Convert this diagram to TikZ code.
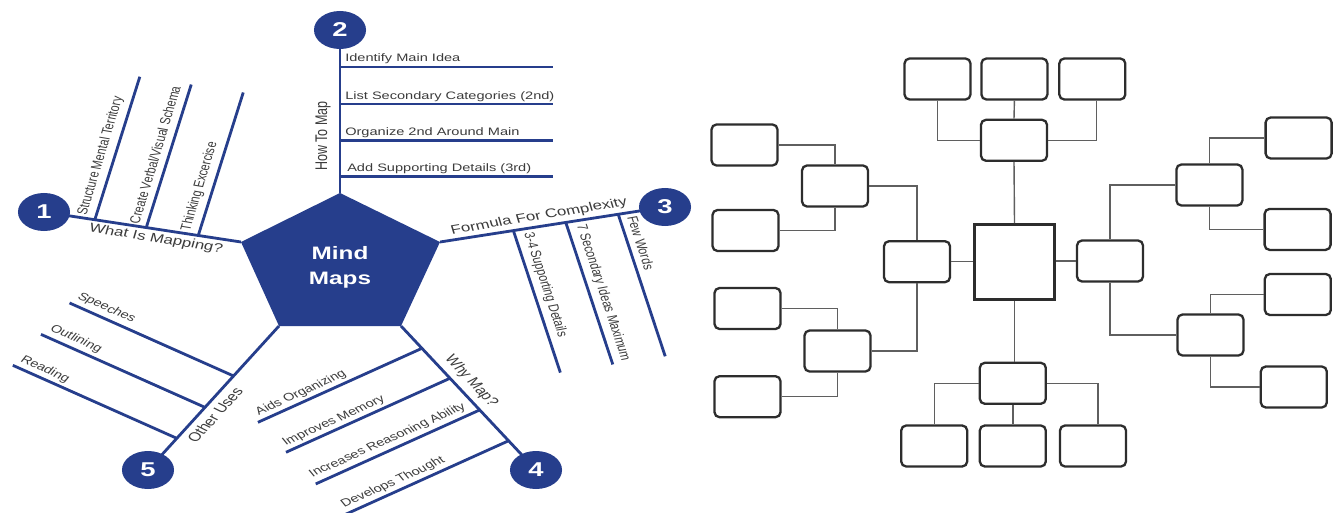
\documentclass[tikz,border=0pt]{standalone}
\usepackage{fontspec}
\setmainfont{Liberation Sans}
\usetikzlibrary{calc}
\definecolor{mmblue}{RGB}{38,62,140}
\definecolor{lblgray}{RGB}{60,60,60}
\definecolor{boxgray}{RGB}{45,45,45}
\definecolor{conngray}{RGB}{95,95,95}
\begin{document}
\begin{tikzpicture}[x=1pt,y=-1pt,
  branch/.style={draw=mmblue, line width=2.8pt},
  num/.style={circle, fill=mmblue, text=white, minimum size=38pt, inner sep=0pt, xscale=1.37, font=\fontsize{20}{24}\selectfont\bfseries},
  sublbl/.style={text=lblgray, inner sep=0pt, xscale=1.35, font=\fontsize{10.8}{13}\selectfont},
  brlbl/.style={text=lblgray, inner sep=0pt, xscale=1.35, font=\fontsize{12.5}{15}\selectfont},
  mbox/.style={draw=boxgray, line width=2.3pt, rounded corners=5pt, minimum width=66pt, minimum height=41pt, inner sep=0pt, fill=white},
  cbox/.style={draw=boxgray, line width=2.8pt, minimum width=80pt, minimum height=75pt, inner sep=0pt, fill=white},
  conn/.style={draw=conngray, line width=1.4pt}]
\fill[white] (0,0) rectangle (1335,513);
\useasboundingbox (0,0) rectangle (1335,513);

% ---------------- left: mind map ----------------
\coordinate (PT) at (340,193);
\coordinate (PR) at (440,242);
\coordinate (PBR) at (401,326);
\coordinate (PBL) at (279,326);
\coordinate (PL) at (241,242);
\coordinate (c1) at (44,212);
\coordinate (c2) at (340,30);
\coordinate (c3) at (665,207);
\coordinate (c4) at (536,470);
\coordinate (c5) at (148,470);

% main branches
\draw[branch] (PL) -- (c1);
\draw[branch] (PT) -- (c2);
\draw[branch] (PR) -- (c3);
\draw[branch] (PBR) -- (c4);
\draw[branch] (PBL) -- (c5);

% branch 1: What Is Mapping?
\coordinate (s11) at ($(PL)!0.742!(c1)$);
\coordinate (s12) at ($(PL)!0.481!(c1)$);
\coordinate (s13) at ($(PL)!0.217!(c1)$);
\draw[branch] (s11) -- ++(45,-143);
\draw[branch] (s12) -- ++(45,-143);
\draw[branch] (s13) -- ++(45,-143);
\node[sublbl, rotate=77.3] (l11) at (100.8,156) {Structure Mental Territory};
\node[sublbl, rotate=77.3] (l12) at (155,155) {Create Verbal/Visual Schema};
\node[sublbl, rotate=77.3] (l13) at (199.7,186.5) {Thinking Excercise};
\node[brlbl, rotate=-12.1] (b1) at (156,239) {What Is Mapping?};

% branch 2: How To Map
\coordinate (s21) at ($(PT)!0.773!(c2)$);
\coordinate (s22) at ($(PT)!0.546!(c2)$);
\coordinate (s23) at ($(PT)!0.324!(c2)$);
\coordinate (s24) at ($(PT)!0.100!(c2)$);
\draw[branch] (s21) -- ++(213,0);
\draw[branch] (s22) -- ++(213,0);
\draw[branch] (s23) -- ++(213,0);
\draw[branch] (s24) -- ++(213,0);
\node[sublbl, anchor=base west] (l21) at ($(s21)+(5,-5)$) {Identify Main Idea};
\node[sublbl, anchor=base west] (l22) at ($(s22)+(5,-5)$) {List Secondary Categories (2nd)};
\node[sublbl, anchor=base west] (l23) at ($(s23)+(5,-5)$) {Organize 2nd Around Main};
\node[sublbl, anchor=base west] (l24) at ($(s24)+(7,-5)$) {Add Supporting Details (3rd)};
\node[brlbl, rotate=90] (b2) at (323,136) {How To Map};

% branch 3: Formula For Complexity
\coordinate (s31) at ($(PR)!0.326!(c3)$);
\coordinate (s32) at ($(PR)!0.559!(c3)$);
\coordinate (s33) at ($(PR)!0.792!(c3)$);
\draw[branch] (s31) -- ++(47,142);
\draw[branch] (s32) -- ++(47,142);
\draw[branch] (s33) -- ++(47,142);
\node[sublbl, rotate=-76.2] (l31) at (545,285) {3-4 Supporting Details};
\node[sublbl, rotate=-76.2] (l32) at (603,293) {7 Secondary Ideas Maximum};
\node[sublbl, rotate=-76.2] (l33) at (641,243) {Few Words};
\node[brlbl, rotate=12.5] (b3) at (539,216.7) {Formula For Complexity};

% branch 4: Why Map?
\coordinate (s41) at ($(PBR)!0.155!(c4)$);
\coordinate (s42) at ($(PBR)!0.363!(c4)$);
\coordinate (s43) at ($(PBR)!0.583!(c4)$);
\coordinate (s44) at ($(PBR)!0.797!(c4)$);
\draw[branch] (s41) -- ++(-164,74);
\draw[branch] (s42) -- ++(-164,74);
\draw[branch] (s43) -- ++(-164,74);
\draw[branch] (s44) -- ++(-164,74);
\node[sublbl, rotate=31.3] (l41) at (301,393) {Aids Organizing};
\node[sublbl, rotate=31.3] (l42) at (334,421) {Improves Memory};
\node[sublbl, rotate=31.3] (l43) at (387.5,440.5) {Increases Reasoning Ability};
\node[sublbl, rotate=31.3] (l44) at (393,482.5) {Develops Thought};
\node[brlbl, rotate=-55.2] (b4) at (471,381) {Why Map?};

% branch 5: Other Uses
\coordinate (s51) at ($(PBL)!0.347!(c5)$);
\coordinate (s52) at ($(PBL)!0.565!(c5)$);
\coordinate (s53) at ($(PBL)!0.780!(c5)$);
\draw[branch] (s51) -- ++(-164,-73);
\draw[branch] (s52) -- ++(-164,-73);
\draw[branch] (s53) -- ++(-164,-73);
\node[sublbl, rotate=-31] (l51) at (106.5,308) {Speeches};
\node[sublbl, rotate=-31] (l52) at (76,339) {Outlining};
\node[sublbl, rotate=-31] (l53) at (45,369.5) {Reading};
\node[brlbl, rotate=56] (b5) at (215,415) {Other Uses};

% pentagon
\fill[mmblue] (PT) -- (PR) -- (PBR) -- (PBL) -- (PL) -- cycle;
\node[text=white, align=center, xscale=1.35, inner sep=0pt, font=\fontsize{18}{25}\selectfont\bfseries] (mm) at (340,267) {Mind\\Maps};

% numbered circles
\node[num] (n1) at (c1) {1};
\node[num] (n2) at (c2) {2};
\node[num] (n3) at (c3) {3};
\node[num] (n4) at (c4) {4};
\node[num] (n5) at (c5) {5};

% ---------------- right: blank box map ----------------
\node[mbox] (T1) at (937.5,79) {};
\node[mbox] (T2) at (1014.4,79) {};
\node[mbox] (T3) at (1092.3,79) {};
\node[mbox] (TM) at (1014,140.3) {};
\node[cbox] (C) at (1014.5,262) {};
\node[mbox] (LM) at (917,261.7) {};
\node[mbox] (RM) at (1110,261) {};
\node[mbox] (LU) at (835,186) {};
\node[mbox] (LUa) at (744.5,145) {};
\node[mbox] (LUb) at (745.5,230.5) {};
\node[mbox] (LL) at (837.5,351) {};
\node[mbox] (LLa) at (747.5,308.5) {};
\node[mbox] (LLb) at (747.5,396.7) {};
\node[mbox] (RU) at (1209.4,185) {};
\node[mbox] (RUa) at (1298.6,138) {};
\node[mbox] (RUb) at (1297.6,229.4) {};
\node[mbox] (RL) at (1210.5,335) {};
\node[mbox] (RLa) at (1297.8,294.5) {};
\node[mbox] (RLb) at (1293.8,387) {};
\node[mbox] (BM) at (1012.8,383.3) {};
\node[mbox] (B1) at (934.2,446) {};
\node[mbox] (B2) at (1012.8,446) {};
\node[mbox] (B3) at (1093,446) {};

\draw[conn] (T1.south) |- (TM.west);
\draw[conn] (T2.south) -- (TM.north);
\draw[conn] ([xshift=4pt]T3.south) |- (TM.east);
\draw[conn] (TM.south) -- (C.north);
\draw[conn] (C.south) -- (C.south |- BM.north);
\draw[conn] (LM.east) -- (LM.east -| C.west);
\draw[conn] (RM.west) -- (RM.west -| C.east);
\draw[conn] (LU.east) -| (LM.north);
\draw[conn] (LUa.east) -| (LU.north);
\draw[conn] (LUb.east) -| (LU.south);
\draw[conn] (LL.east) -| (LM.south);
\draw[conn] (LLa.east) -| (LL.north);
\draw[conn] (LLb.east) -| (LL.south);
\draw[conn] (RM.north) |- (RU.west);
\draw[conn] (RU.north) |- (RUa.west);
\draw[conn] (RU.south) |- (RUb.west);
\draw[conn] (RM.south) |- (RL.west);
\draw[conn] (RL.north) |- (RLa.west);
\draw[conn] (RL.south) |- (RLb.west);
\draw[conn] (BM.west) -| (B1.north);
\draw[conn] (BM.south) -- (B2.north);
\draw[conn] (BM.east) -| ([xshift=5pt]B3.north);
\end{tikzpicture}
\end{document}
